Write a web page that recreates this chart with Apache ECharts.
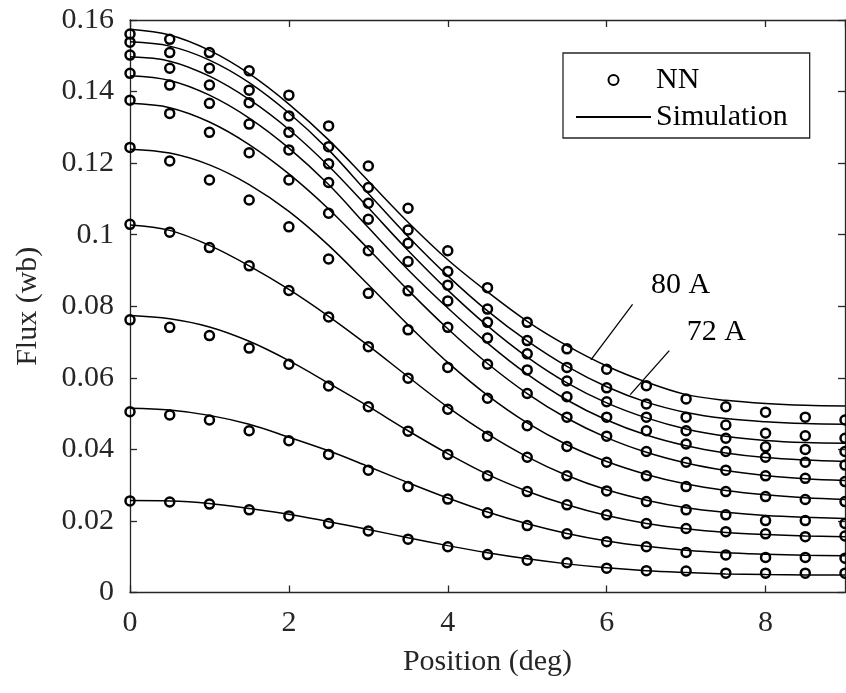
<!DOCTYPE html>
<html>
<head>
<meta charset="utf-8">
<script src="https://cdn.jsdelivr.net/npm/echarts/dist/echarts.min.js"></script>
<style>
html,body{margin:0;padding:0;background:#ffffff;}
#chart{width:846px;height:693px;}
</style>
</head>
<body>
<div id="chart"></div>
<script>
// ---- data ----
const positions = [0, 0.5, 1, 1.5, 2, 2.5, 3, 3.5, 4, 4.5, 5, 5.5, 6, 6.5, 7, 7.5, 8, 8.5, 9];
const currents = ['80 A', '72 A', '64 A', '56 A', '48 A', '40 A', '32 A', '24 A', '16 A', '8 A'];

// NN predictions (markers)
const nn80 = [0.1561, 0.1546, 0.1509, 0.1458, 0.1390, 0.1304, 0.1192, 0.1074, 0.0955, 0.0852, 0.0755, 0.0681, 0.0624, 0.0578, 0.0541, 0.0519, 0.0504, 0.0490, 0.0482];
const nn72 = [0.1538, 0.1509, 0.1465, 0.1404, 0.1332, 0.1246, 0.1132, 0.1013, 0.0897, 0.0792, 0.0704, 0.0629, 0.0572, 0.0527, 0.0490, 0.0468, 0.0445, 0.0438, 0.0431];
const nn64 = [0.1502, 0.1465, 0.1418, 0.1369, 0.1286, 0.1198, 0.1088, 0.0976, 0.0859, 0.0755, 0.0667, 0.0591, 0.0533, 0.0490, 0.0452, 0.0431, 0.0407, 0.0400, 0.0394];
const nn56 = [0.1451, 0.1418, 0.1367, 0.1309, 0.1237, 0.1146, 0.1043, 0.0925, 0.0815, 0.0711, 0.0622, 0.0547, 0.0490, 0.0452, 0.0415, 0.0394, 0.0378, 0.0364, 0.0356];
const nn48 = [0.1376, 0.1339, 0.1286, 0.1229, 0.1153, 0.1060, 0.0955, 0.0843, 0.0741, 0.0638, 0.0556, 0.0490, 0.0437, 0.0394, 0.0364, 0.0342, 0.0326, 0.0319, 0.0310];
const nn40 = [0.1244, 0.1206, 0.1153, 0.1097, 0.1022, 0.0932, 0.0836, 0.0734, 0.0629, 0.0543, 0.0466, 0.0408, 0.0364, 0.0326, 0.0296, 0.0282, 0.0268, 0.0260, 0.0254];
const nn32 = [0.1029, 0.1007, 0.0964, 0.0913, 0.0844, 0.0770, 0.0687, 0.0599, 0.0512, 0.0437, 0.0378, 0.0326, 0.0284, 0.0254, 0.0231, 0.0217, 0.0201, 0.0201, 0.0193];
const nn24 = [0.0762, 0.0741, 0.0718, 0.0683, 0.0638, 0.0577, 0.0519, 0.0451, 0.0386, 0.0326, 0.0282, 0.0245, 0.0217, 0.0193, 0.0179, 0.0170, 0.0164, 0.0156, 0.0158];
const nn16 = [0.0505, 0.0496, 0.0482, 0.0452, 0.0424, 0.0386, 0.0342, 0.0296, 0.0261, 0.0223, 0.0187, 0.0164, 0.0142, 0.0128, 0.0112, 0.0105, 0.0098, 0.0098, 0.0096];
const nn8  = [0.0256, 0.0253, 0.0247, 0.0231, 0.0214, 0.0193, 0.0172, 0.0149, 0.0128, 0.0106, 0.0090, 0.0083, 0.0068, 0.0061, 0.0060, 0.0054, 0.0054, 0.0054, 0.0054];

// Simulation (lines)
const sim80 = [0.1574, 0.1558, 0.1515, 0.1450, 0.1365, 0.1265, 0.1150, 0.1035, 0.0930, 0.0840, 0.0758, 0.0690, 0.0633, 0.0588, 0.0553, 0.0537, 0.0528, 0.0523, 0.0521];
const sim72 = [0.1539, 0.1527, 0.1488, 0.1425, 0.1340, 0.1237, 0.1115, 0.0995, 0.0885, 0.0787, 0.0703, 0.0632, 0.0575, 0.0532, 0.0503, 0.0486, 0.0477, 0.0472, 0.0470];
const sim64 = [0.1497, 0.1485, 0.1443, 0.1378, 0.1294, 0.1192, 0.1075, 0.0956, 0.0845, 0.0745, 0.0658, 0.0586, 0.0530, 0.0488, 0.0457, 0.0437, 0.0425, 0.0419, 0.0417];
const sim56 = [0.1444, 0.1431, 0.1390, 0.1326, 0.1242, 0.1140, 0.1020, 0.0902, 0.0795, 0.0697, 0.0610, 0.0538, 0.0482, 0.0440, 0.0410, 0.0390, 0.0377, 0.0370, 0.0366];
const sim48 = [0.1367, 0.1355, 0.1315, 0.1252, 0.1170, 0.1072, 0.0960, 0.0845, 0.0737, 0.0640, 0.0556, 0.0487, 0.0433, 0.0392, 0.0362, 0.0341, 0.0327, 0.0318, 0.0313];
const sim40 = [0.1239, 0.1228, 0.1195, 0.1140, 0.1065, 0.0970, 0.0860, 0.0748, 0.0643, 0.0551, 0.0474, 0.0413, 0.0366, 0.0330, 0.0303, 0.0285, 0.0273, 0.0265, 0.0260];
const sim32 = [0.1027, 0.1012, 0.0970, 0.0913, 0.0847, 0.0772, 0.0690, 0.0603, 0.0518, 0.0443, 0.0379, 0.0327, 0.0287, 0.0258, 0.0237, 0.0224, 0.0215, 0.0210, 0.0207];
const sim24 = [0.0774, 0.0765, 0.0742, 0.0702, 0.0648, 0.0585, 0.0520, 0.0452, 0.0388, 0.0330, 0.0283, 0.0245, 0.0215, 0.0193, 0.0178, 0.0168, 0.0162, 0.0158, 0.0156];
const sim16 = [0.0515, 0.0510, 0.0495, 0.0470, 0.0434, 0.0396, 0.0352, 0.0307, 0.0264, 0.0225, 0.0192, 0.0165, 0.0144, 0.0129, 0.0118, 0.0111, 0.0107, 0.0104, 0.0103];
const sim8  = [0.0257, 0.0256, 0.0249, 0.0235, 0.0219, 0.0198, 0.0176, 0.0153, 0.0131, 0.0111, 0.0094, 0.0080, 0.0069, 0.0061, 0.0056, 0.0052, 0.0050, 0.0049, 0.0049];

const xTicks = [0, 2, 4, 6, 8];
const yTicks = [0, 0.02, 0.04, 0.06, 0.08, 0.1, 0.12, 0.14, 0.16];

// annotations (data coordinates)
const annotTexts = ['80 A', '72 A'];
const annotTextPos = [[6.93, 0.0859], [7.38, 0.0728]];
const annotLeaders = [
  [[6.326, 0.0805], [5.802, 0.0650]],
  [[6.788, 0.0676], [6.297, 0.0553]]
];

const nnSets = [nn80, nn72, nn64, nn56, nn48, nn40, nn32, nn24, nn16, nn8];
const simSets = [sim80, sim72, sim64, sim56, sim48, sim40, sim32, sim24, sim16, sim8];

// ---- chart ----
const FONT = 'Liberation Serif, Times New Roman, serif';
const AX = '#262626';
const chart = echarts.init(document.getElementById('chart'), null, {renderer: 'canvas'});

const series = [];
simSets.forEach((d, i) => {
  series.push({
    type: 'line', name: 'Simulation', id: 'sim' + currents[i],
    data: positions.map((x, j) => [x, d[j]]),
    symbol: 'none', showSymbol: false, smooth: 0.35, silent: true,
    lineStyle: {color: '#000', width: 1.5},
    itemStyle: {color: '#000'},
    z: 2
  });
});
nnSets.forEach((d, i) => {
  series.push({
    type: 'scatter', name: 'NN', id: 'nn' + currents[i],
    data: positions.map((x, j) => [x, d[j]]),
    symbol: 'circle', symbolSize: 9, silent: true,
    itemStyle: {color: 'rgba(255,255,255,0)', borderColor: '#000', borderWidth: 2.5, opacity: 1},
    z: 3
  });
});
annotLeaders.forEach((seg, i) => {
  series.push({
    type: 'line', id: 'leader' + i,
    data: seg, symbol: 'none', silent: true,
    lineStyle: {color: '#000', width: 1.3},
    z: 4
  });
});
series.push({
  type: 'scatter', id: 'annotText',
  data: annotTextPos.map((p, i) => ({value: p, name: annotTexts[i]})),
  symbolSize: 0, silent: true,
  itemStyle: {opacity: 1},
  label: {show: true, position: 'inside', formatter: p => p.name,
          fontFamily: FONT, fontSize: 30, color: '#000', opacity: 1},
  z: 5
});

const option = {
  backgroundColor: '#ffffff',
  animation: false,
  grid: {left: 130, top: 20, right: 1, bottom: 100.5, containLabel: false, outerBoundsMode: 'none'},
  legend: {
    data: [
      {name: 'NN', icon: 'circle'},
      {name: 'Simulation', itemStyle: {color: 'rgba(0,0,0,0)', borderWidth: 0, opacity: 0}}
    ],
    orient: 'vertical', left: 563, top: 53,
    itemWidth: 75, itemHeight: 10, itemGap: 7, itemTextGap: 10,
    padding: [12, 22, 6, 12],
    borderColor: AX, borderWidth: 1.3, backgroundColor: '#fff',
    textStyle: {fontFamily: FONT, fontSize: 30, color: '#000', lineHeight: 30},
    selectedMode: false
  },
  xAxis: [
    {
      type: 'value', min: 0, max: 9, interval: 2, position: 'bottom',
      axisLine: {show: true, onZero: false, lineStyle: {color: AX, width: 1.3}},
      axisTick: {show: true, inside: true, length: 7, lineStyle: {color: AX, width: 1.3}},
      axisLabel: {show: true, margin: 16, fontFamily: FONT, fontSize: 30, color: AX,
                  showMaxLabel: false,
                  formatter: v => (xTicks.indexOf(v) >= 0 ? String(v) : '')},
      splitLine: {show: false},
      name: 'Position (deg)', nameLocation: 'middle', nameGap: 55,
      nameTextStyle: {fontFamily: FONT, fontSize: 30, color: AX}
    },
    {
      type: 'value', min: 0, max: 9, interval: 2, position: 'top',
      axisLine: {show: true, onZero: false, lineStyle: {color: AX, width: 1.3}},
      axisTick: {show: true, inside: true, length: 7, lineStyle: {color: AX, width: 1.3}},
      axisLabel: {show: false}, splitLine: {show: false}
    }
  ],
  yAxis: [
    {
      type: 'value', min: 0, max: 0.16, interval: 0.02, position: 'left',
      axisLine: {show: true, onZero: false, lineStyle: {color: AX, width: 1.3}},
      axisTick: {show: true, inside: true, length: 7, lineStyle: {color: AX, width: 1.3}},
      axisLabel: {show: true, margin: 16, fontFamily: FONT, fontSize: 30, color: AX,
                  formatter: v => {
                    const t = yTicks.find(y => Math.abs(y - v) < 1e-9);
                    return t === undefined ? '' : String(t);
                  }},
      splitLine: {show: false},
      name: 'Flux (wb)', nameLocation: 'middle', nameGap: 87,
      nameTextStyle: {fontFamily: FONT, fontSize: 30, color: AX}
    },
    {
      type: 'value', min: 0, max: 0.16, interval: 0.02, position: 'right',
      axisLine: {show: true, onZero: false, lineStyle: {color: AX, width: 1.3}},
      axisTick: {show: true, inside: true, length: 7, lineStyle: {color: AX, width: 1.3}},
      axisLabel: {show: false}, splitLine: {show: false}
    }
  ],
  series: series
};
chart.setOption(option);
</script>
</body>
</html>
